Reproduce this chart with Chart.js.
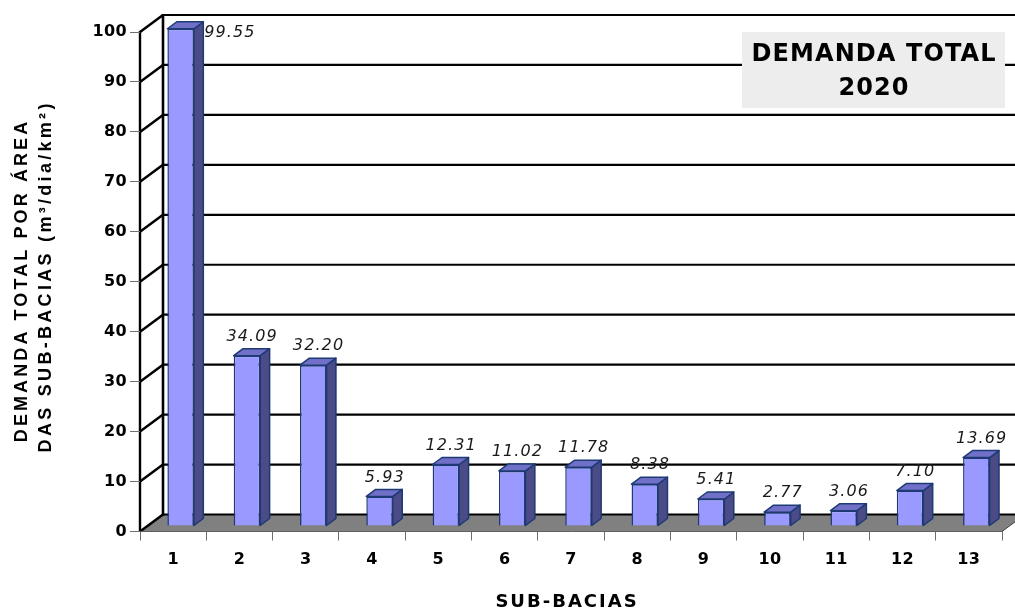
<!DOCTYPE html>
<html>
<head>
<meta charset="utf-8">
<script src="https://cdn.jsdelivr.net/npm/chart.js@4.4.1/dist/chart.umd.min.js"></script>
<style>
  html, body { margin: 0; padding: 0; background: #ffffff; }
  #wrap { width: 1015px; height: 610px; }
</style>
</head>
<body>
<div id="wrap"><canvas id="chart" width="1015" height="610"></canvas></div>
<script>
// Sub-basin numbers and total demand per area (m³/dia/km²), year 2020
const categories = ['1', '2', '3', '4', '5', '6', '7', '8', '9', '10', '11', '12', '13'];
const demandValues = [99.55, 34.09, 32.20, 5.93, 12.31, 11.02, 11.78, 8.38, 5.41, 2.77, 3.06, 7.10, 13.69];
const yTickValues = [0, 10, 20, 30, 40, 50, 60, 70, 80, 90, 100];
const boxTitleLines = ['DEMANDA TOTAL', '2020'];
const yTitleLines = ['DEMANDA TOTAL POR ÁREA', 'DAS SUB-BACIAS (m³/dia/km²)'];
const xTitleText = 'SUB-BACIAS';

// 3D look: depth of the walls and of the columns
const WALL_DX = 23, WALL_DY = -17;      // back wall offset from the front axis plane
const BAR_DX = 7.5, BAR_DY = -5.5;      // front face of the columns
const SIDE_DX = 9.4, SIDE_DY = -7;      // column depth

const COL_FRONT = '#9999ff';
const COL_TOP = '#7070c8';
const COL_SIDE = '#4b4b88';
const COL_EDGE = '#1d3a74';

function drawSpaced(ctx, text, x, y, spacing, align) {
  ctx.letterSpacing = spacing + 'px';
  ctx.textAlign = align;
  let dx = 0;
  if (align === 'center') dx = spacing / 2;
  else if (align === 'right') dx = spacing;
  ctx.fillText(text, x + dx, y);
}

const depthPlugin = {
  id: 'depth3d',
  beforeDraw(chart) {
    const ctx = chart.ctx;
    const area = chart.chartArea;
    const ys = chart.scales.y;
    const L = area.left, R = area.right;
    const y0 = ys.getPixelForValue(0);
    const yTop = ys.getPixelForValue(100);
    ctx.save();
    ctx.letterSpacing = '0px';

    // floor
    ctx.beginPath();
    ctx.moveTo(L, y0);
    ctx.lineTo(R, y0);
    ctx.lineTo(R + WALL_DX, y0 + WALL_DY);
    ctx.lineTo(L + WALL_DX, y0 + WALL_DY);
    ctx.closePath();
    ctx.fillStyle = '#808080';
    ctx.fill();
    ctx.strokeStyle = '#404040';
    ctx.lineWidth = 1;
    ctx.beginPath();
    ctx.moveTo(R, y0);
    ctx.lineTo(R + WALL_DX, y0 + WALL_DY);
    ctx.stroke();

    // gridlines on back wall and side wall
    ctx.strokeStyle = '#000000';
    ctx.lineCap = 'butt';
    yTickValues.forEach(v => {
      const y = ys.getPixelForValue(v);
      ctx.lineWidth = 2.2;
      ctx.beginPath();
      ctx.moveTo(L + WALL_DX, y + WALL_DY);
      ctx.lineTo(chart.width + 20, y + WALL_DY);
      ctx.stroke();
      ctx.lineWidth = 2.5;
      ctx.beginPath();
      ctx.moveTo(L, y);
      ctx.lineTo(L + WALL_DX, y + WALL_DY);
      ctx.stroke();
    });

    // back wall left edge
    ctx.lineWidth = 2.6;
    ctx.beginPath();
    ctx.moveTo(L + WALL_DX, y0 + WALL_DY + 1);
    ctx.lineTo(L + WALL_DX, yTop + WALL_DY - 1);
    ctx.stroke();

    // front vertical axis line
    ctx.lineWidth = 2.4;
    ctx.beginPath();
    ctx.moveTo(L, y0);
    ctx.lineTo(L, yTop - 1);
    ctx.stroke();
    ctx.restore();

    ctx.letterSpacing = '0.4px';
  },
  beforeDatasetsDraw(chart) {
    chart.ctx.save();
    chart.ctx.translate(BAR_DX, BAR_DY);
  },
  afterDatasetsDraw(chart) {
    const ctx = chart.ctx;
    const meta = chart.getDatasetMeta(0);
    ctx.lineWidth = 1.5;
    ctx.strokeStyle = COL_EDGE;
    ctx.lineJoin = 'round';
    meta.data.forEach(bar => {
      const p = bar.getProps(['x', 'y', 'base', 'width'], true);
      const left = p.x - p.width / 2, right = p.x + p.width / 2;
      const top = p.y, bottom = p.base;
      // side face
      ctx.beginPath();
      ctx.moveTo(right, top);
      ctx.lineTo(right + SIDE_DX, top + SIDE_DY);
      ctx.lineTo(right + SIDE_DX, bottom + SIDE_DY);
      ctx.lineTo(right, bottom);
      ctx.closePath();
      ctx.fillStyle = COL_SIDE;
      ctx.fill();
      ctx.stroke();
      // top face
      ctx.beginPath();
      ctx.moveTo(left, top);
      ctx.lineTo(left + SIDE_DX, top + SIDE_DY);
      ctx.lineTo(right + SIDE_DX, top + SIDE_DY);
      ctx.lineTo(right, top);
      ctx.closePath();
      ctx.fillStyle = COL_TOP;
      ctx.fill();
      ctx.stroke();
    });
    ctx.restore();
  },
  afterDraw(chart) {
    const ctx = chart.ctx;
    const area = chart.chartArea;
    const meta = chart.getDatasetMeta(0);
    ctx.save();

    // value labels
    ctx.fillStyle = '#1a1a1a';
    ctx.font = 'oblique 16px "DejaVu Sans"';
    ctx.textBaseline = 'middle';
    meta.data.forEach((bar, i) => {
      const p = bar.getProps(['x', 'y', 'width'], true);
      const txt = demandValues[i].toFixed(2);
      const cx = p.x + BAR_DX + SIDE_DX / 2;
      const cy = p.y + BAR_DY + SIDE_DY - 12;
      if (cy < area.top) {
        drawSpaced(ctx, txt, p.x + BAR_DX + p.width / 2 + SIDE_DX + 1, p.y + BAR_DY + 4, 1.1, 'left');
      } else {
        drawSpaced(ctx, txt, cx, cy, 1.1, 'center');
      }
    });

    // title box
    const bx = 742, by = 32, bw = 263, bh = 76;
    ctx.fillStyle = '#ededed';
    ctx.fillRect(bx, by, bw, bh);
    ctx.fillStyle = '#000000';
    ctx.font = 'bold 24px "DejaVu Sans"';
    ctx.textBaseline = 'middle';
    drawSpaced(ctx, boxTitleLines[0], bx + bw / 2, 55, 1.1, 'center');
    drawSpaced(ctx, boxTitleLines[1], bx + bw / 2, 89, 1.1, 'center');

    // x axis title
    ctx.font = 'bold 18px "DejaVu Sans"';
    drawSpaced(ctx, xTitleText, 566, 602, 2, 'center');

    // y axis title (two rotated lines)
    ctx.font = 'bold 18px "Liberation Sans"';
    ctx.save();
    ctx.translate(22, 282);
    ctx.rotate(-Math.PI / 2);
    drawSpaced(ctx, yTitleLines[0], 0, 0, 3.1, 'center');
    ctx.restore();
    ctx.save();
    ctx.translate(46, 278);
    ctx.rotate(-Math.PI / 2);
    drawSpaced(ctx, yTitleLines[1], 0, 0, 3.3, 'center');
    ctx.restore();

    ctx.restore();
  }
};

new Chart(document.getElementById('chart'), {
  type: 'bar',
  data: {
    labels: categories,
    datasets: [{
      data: demandValues,
      backgroundColor: COL_FRONT,
      borderColor: COL_EDGE,
      borderWidth: 1.5,
      barPercentage: 0.40,
      categoryPercentage: 1.0,
      clip: false
    }]
  },
  options: {
    responsive: false,
    devicePixelRatio: 1,
    animation: false,
    layout: { padding: { top: 32, right: 13, left: 0, bottom: 0 } },
    plugins: {
      legend: { display: false },
      tooltip: { enabled: false },
      title: { display: false }
    },
    scales: {
      y: {
        min: 0,
        max: 100,
        afterFit: s => { s.width = 140; },
        afterBuildTicks: s => { s.ticks = yTickValues.map(v => ({ value: v })); },
        ticks: {
          color: '#000000',
          font: { family: '"DejaVu Sans"', weight: 'bold', size: 16 },
          padding: 3
        },
        grid: { drawOnChartArea: false, tickLength: 10, color: '#707070', lineWidth: 1 },
        border: { display: false }
      },
      x: {
        afterFit: s => { s.height = 78.5; },
        ticks: {
          color: '#000000',
          font: { family: '"DejaVu Sans"', weight: 'bold', size: 16 },
          padding: 10,
          maxRotation: 0
        },
        grid: { offset: true, drawOnChartArea: false, tickLength: 9, color: '#707070', lineWidth: 1 },
        border: { display: true, color: '#606060', width: 1 }
      }
    }
  },
  plugins: [depthPlugin]
});
</script>
</body>
</html>
